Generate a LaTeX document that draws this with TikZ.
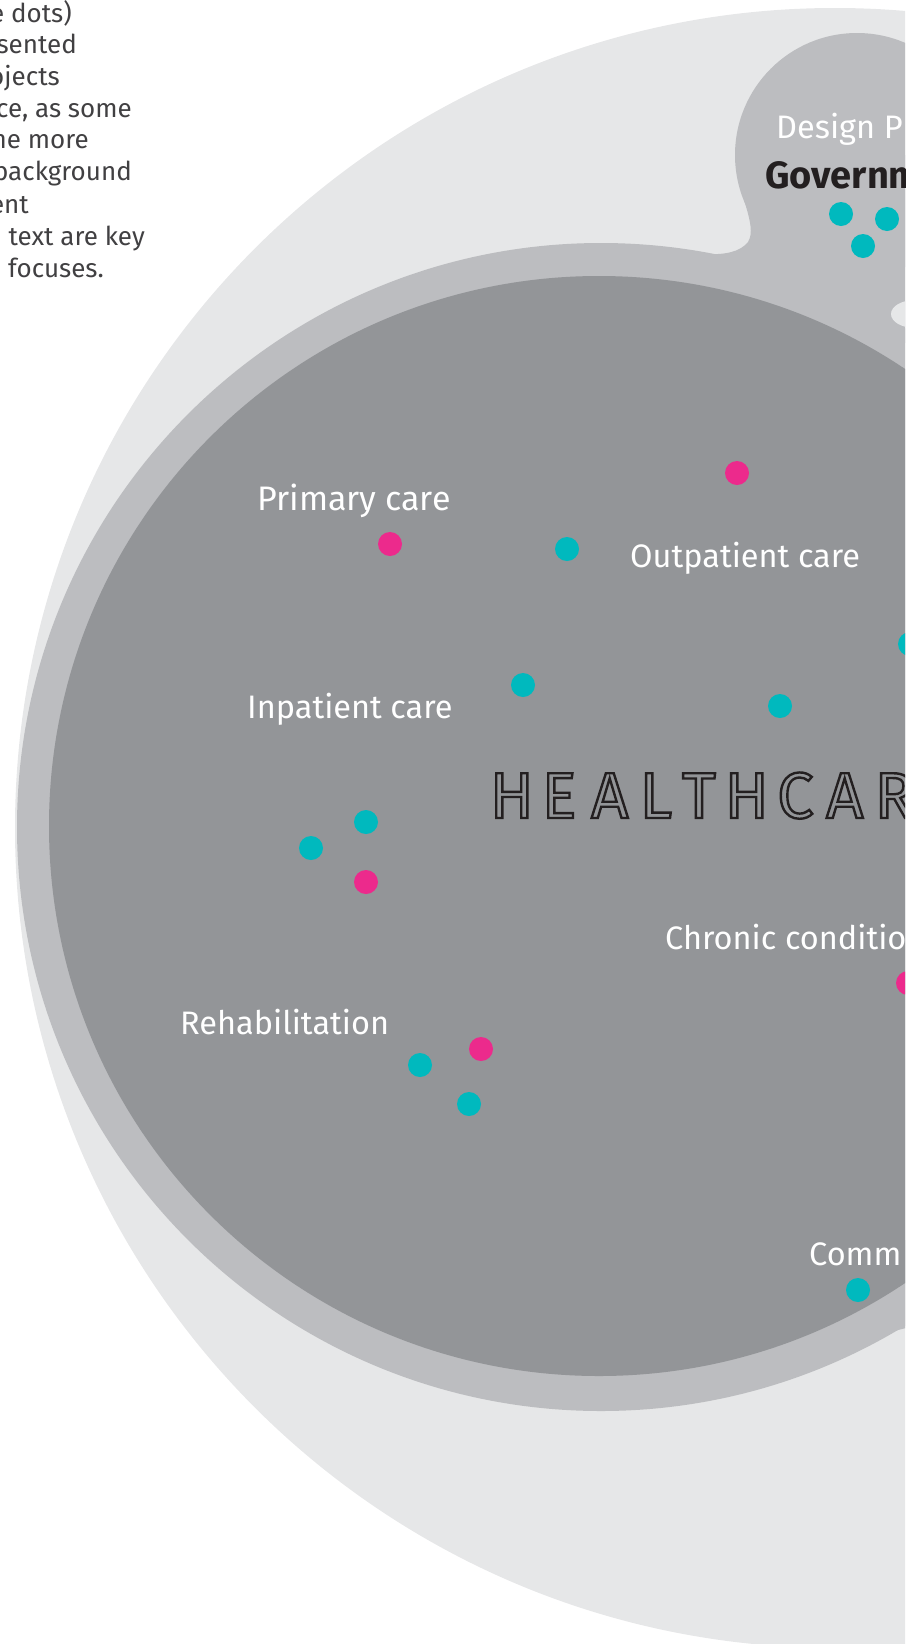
\documentclass[tikz,border=0pt]{standalone}
\usepackage{fontspec}
\setmainfont{Fira Sans}
\definecolor{bglight}{HTML}{E6E7E8}
\definecolor{bgmid}{HTML}{BCBDC0}
\definecolor{bgdark}{HTML}{939598}
\definecolor{dotcyan}{HTML}{00B9BE}
\definecolor{dotpink}{HTML}{EC2A8C}
\definecolor{txtgrey}{HTML}{414042}
\definecolor{txtblack}{HTML}{231F20}
\newcommand\hcbox[2]{\makebox[#1pt][l]{#2}}
\newcommand\outlinetext[1]{\special{pdf:literal direct 1 Tr 2.4 w}#1\special{pdf:literal direct 0 Tr}}
\begin{document}
\begin{tikzpicture}[x=1pt,y=-1pt,
  cdot/.style={circle,fill=dotcyan,minimum size=24pt,inner sep=0pt},
  pdot/.style={circle,fill=dotpink,minimum size=24pt,inner sep=0pt},
  lbl/.style={anchor=base west,inner sep=0pt,text=white,font=\fontsize{32.5}{38}\selectfont},
  note/.style={anchor=base east,inner sep=0pt,text=txtgrey,font=\fontsize{26}{32}\selectfont}]
\useasboundingbox (0,0) rectangle (908,1644);
\begin{scope}
\clip (0,0) rectangle (905,1644);
% outer light disc
\fill[bglight] (835,828) circle[radius=820pt];
% middle ring disc
\fill[bgmid] (601,827) circle[radius=584pt];
% top-right blob
\fill[bgmid] (857,155) circle[radius=122pt];
% neck between blob and ring
\fill[bgmid] (705,254) .. controls (725,255) and (740,252) .. (748,242)
  .. controls (753,234) and (751,222) .. (744,200) -- (857,155) -- (910,155)
  -- (910,335) -- (601,827) -- cycle;
% bottom-right extension
\fill[bgmid] (840,1358) -- (860,1349) .. controls (870,1342) and (878,1336) .. (890,1332)
  -- (910,1327) -- (910,1240) -- (840,1240) -- cycle;
% light gap on the right
\fill[bglight] (915,314) ellipse[x radius=24pt,y radius=14pt];
% inner dark disc
\fill[bgdark] (599,826) circle[radius=550pt];

% side note (cut at left edge)
\node[note] (n1) at (72,22) {e dots)};
\node[note] (n2) at (77,53) {sented};
\node[note] (n3) at (60,85) {ojects};
\node[note] (n4) at (132,117) {ce, as some};
\node[note] (n5) at (89,148) {he more};
\node[note] (n6) at (132,180) {background};
\node[note] (n7) at (29,213) {ent};
\node[note] (n8) at (145,245) {text are key};
\node[note] (n9) at (104,277) {focuses.};

% labels
\node[lbl] (dp) at (776,138) {Design P};
\node[anchor=base west,inner sep=0pt,text=txtblack,font=\fontsize{38}{42}\selectfont\bfseries] (gov) at (765,188) {Governm};
\node[lbl,font=\fontsize{34}{38}\selectfont] (prim) at (257,510) {Primary care};
\node[lbl] (outp) at (630,567) {Outpatient care};
\node[lbl] (inp) at (247,718) {Inpatient care};
\node[lbl] (chron) at (665,949) {Chronic conditio};
\node[lbl] (rehab) at (180,1034) {Rehabilitation};
\node[lbl] (comm) at (809,1265) {Comm};
\node[anchor=base west,inner sep=0pt,text=txtblack,font=\fontsize{65}{70}\selectfont] (hc) at (489.5,818)
  {\outlinetext{\hcbox{52}{H}\hcbox{49.5}{E}\hcbox{48.5}{A}\hcbox{42.5}{L}\hcbox{42.5}{T}\hcbox{52.5}{H}\hcbox{49}{C}\hcbox{48.5}{A}R}};

% dots
\node[cdot] (g1) at (841,214) {};
\node[cdot] (g2) at (887,219) {};
\node[cdot] (g3) at (863,246) {};
\node[pdot] (d1) at (737,473) {};
\node[pdot] (d2) at (390,544) {};
\node[cdot] (d3) at (567,549) {};
\node[cdot] (d4) at (910,644) {};
\node[cdot] (d5) at (523,685) {};
\node[cdot] (d6) at (780,706) {};
\node[cdot] (d7) at (366,822) {};
\node[cdot] (d8) at (311,848) {};
\node[pdot] (d9) at (366,882) {};
\node[pdot] (d10) at (908,983) {};
\node[pdot] (d11) at (481,1049) {};
\node[cdot] (d12) at (420,1065) {};
\node[cdot] (d13) at (469,1104) {};
\node[cdot] (d14) at (858,1290) {};
\end{scope}
\end{tikzpicture}
\end{document}
